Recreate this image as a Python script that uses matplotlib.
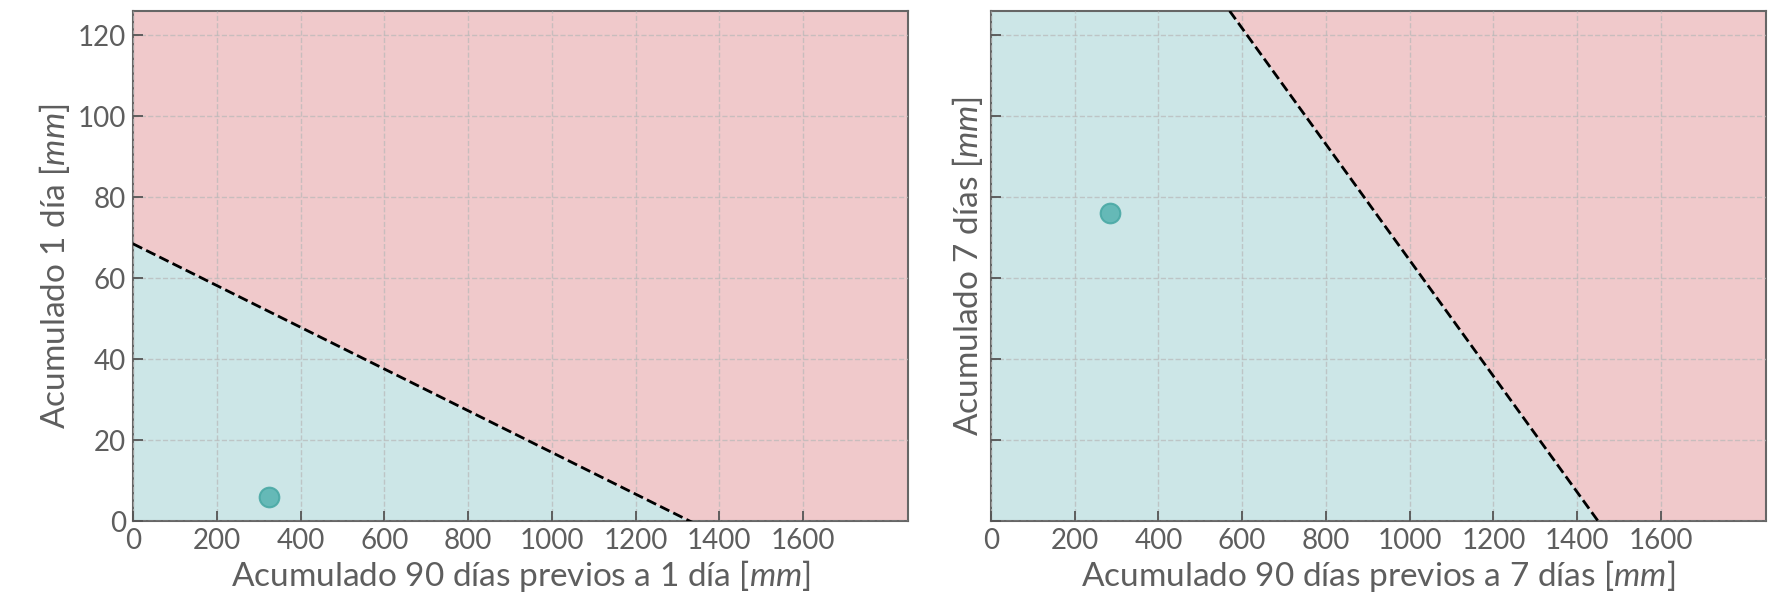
import numpy as np
import matplotlib
matplotlib.use("Agg")
import matplotlib.pyplot as plt

# threshold lines: x-intercept and y-intercept of each panel
x_intercepts = [1330, 1450]
y_intercepts = [68.5, 207.6]
# observed points
point_x = [325, 285]
point_y = [6, 76]
xlabels = ["Acumulado 90 días previos a 1 día [$mm$]",
           "Acumulado 90 días previos a 7 días [$mm$]"]
ylabels = ["Acumulado 1 día [$mm$]", "Acumulado 7 días [$mm$]"]
xticks = [0, 200, 400, 600, 800, 1000, 1200, 1400, 1600]
yticks = [0, 20, 40, 60, 80, 100, 120]

plt.rcParams['font.family'] = ['Lato', 'DejaVu Sans']
plt.rcParams['mathtext.fontset'] = 'custom'
plt.rcParams['mathtext.it'] = 'Lato:italic:normal'
plt.rcParams['mathtext.rm'] = 'Lato:normal'
text_color = '#5e5e5e'

xmax, ymax = 1850, 126
red = '#f0c9cb'
cyan = '#cce6e7'

fig, axes = plt.subplots(1, 2, figsize=(17.8, 6.04), dpi=100, sharey=True)
fig.subplots_adjust(left=0.0747, right=0.992, top=0.982, bottom=0.137, wspace=0.107)

for i, ax in enumerate(axes):
    xs = np.linspace(0, xmax, 400)
    line = y_intercepts[i] * (1 - xs / x_intercepts[i])
    yl = np.clip(line, 0, ymax)
    ax.fill_between(xs, 0, yl, color=cyan, lw=0, zorder=0)
    ax.fill_between(xs, yl, ymax, color=red, lw=0, zorder=0)
    ax.plot(xs, line, 'k--', lw=2, zorder=3)
    ax.scatter(point_x[i], point_y[i], s=200, color='#5ab5b2', edgecolor='#4aa9a5',
               lw=1.5, alpha=0.9, zorder=4)
    ax.set_xlim(0, xmax)
    ax.set_ylim(0, ymax)
    ax.set_xticks(xticks)
    ax.set_yticks(yticks)
    ax.grid(True, ls='--', color='#b8b8b8', lw=1, alpha=0.7, zorder=1)
    ax.set_axisbelow(False)
    ax.tick_params(direction='in', length=7, width=1.3, color='#555555',
                   labelsize=20, labelcolor=text_color, pad=5)
    for sp in ax.spines.values():
        sp.set_color('#666666')
        sp.set_linewidth(1.5)
    ax.set_xlabel(xlabels[i], fontsize=24, color=text_color, labelpad=3)
    ax.set_ylabel(ylabels[i], fontsize=24, color=text_color)

axes[1].tick_params(labelleft=False)

fig.savefig("out.png", dpi=100)
